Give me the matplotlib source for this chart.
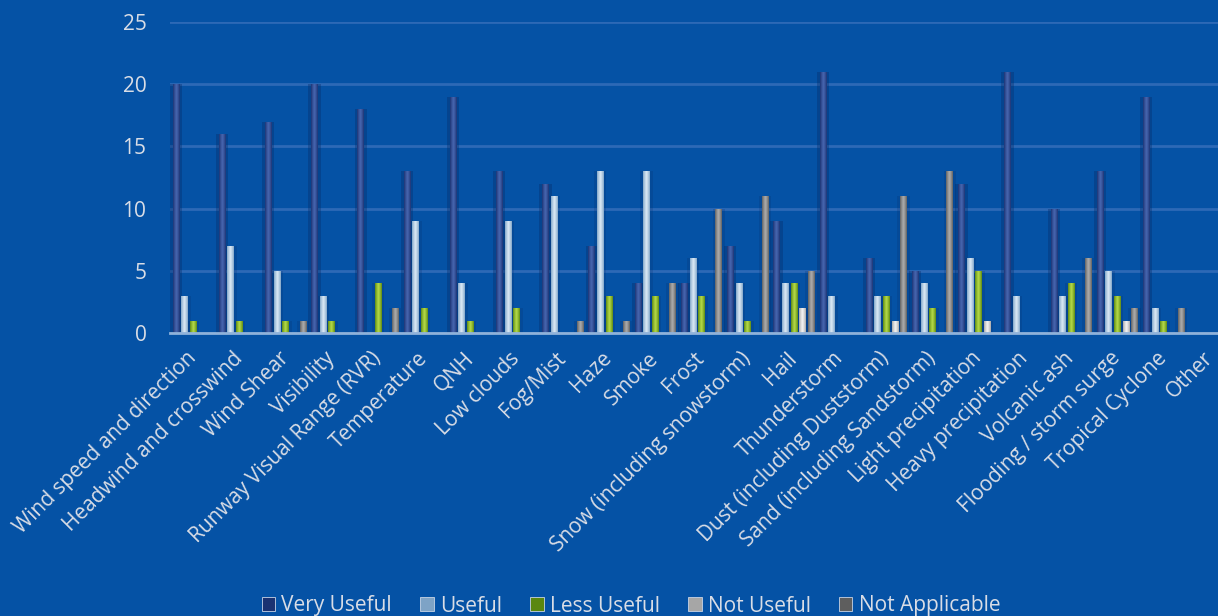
import matplotlib.pyplot as plt
import numpy as np
from matplotlib.colors import LinearSegmentedColormap

categories = [
    "Wind speed and direction", "Headwind and crosswind", "Wind Shear", "Visibility",
    "Runway Visual Range (RVR)", "Temperature", "QNH", "Low clouds", "Fog/Mist", "Haze",
    "Smoke", "Frost", "Snow (including snowstorm)", "Hail", "Thunderstorm",
    "Dust (including Duststorm)", "Sand (including Sandstorm)", "Light precipitation",
    "Heavy precipitation", "Volcanic ash", "Flooding / storm surge", "Tropical Cyclone", "Other",
]

very_useful    = [20, 16, 17, 20, 18, 13, 19, 13, 12, 7, 4, 4, 7, 9, 21, 6, 5, 12, 21, 10, 13, 19, 0]
useful         = [3, 7, 5, 3, 0, 9, 4, 9, 11, 13, 13, 6, 4, 4, 3, 3, 4, 6, 3, 3, 5, 2, 0]
less_useful    = [1, 1, 1, 1, 4, 2, 1, 2, 0, 3, 3, 3, 1, 4, 0, 3, 2, 5, 0, 4, 3, 1, 0]
not_useful     = [0, 0, 0, 0, 0, 0, 0, 0, 0, 0, 0, 0, 0, 2, 0, 1, 0, 1, 0, 0, 1, 0, 0]
not_applicable = [0, 0, 1, 0, 2, 0, 0, 0, 1, 1, 4, 10, 11, 5, 0, 11, 13, 0, 0, 6, 2, 2, 0]

series_names = ["Very Useful", "Useful", "Less Useful", "Not Useful", "Not Applicable"]
series_values = [very_useful, useful, less_useful, not_useful, not_applicable]

# (edge, centre) colours for the cylinder-like shading of each series
shades = [
    ("#1a3272", "#4866b0"),
    ("#7ea3c6", "#dbe9f5"),
    ("#5a8710", "#b4da48"),
    ("#a6a6a6", "#f4f4f4"),
    ("#5e5e5e", "#acacac"),
]

BG = "#0552a5"
TXT = "#d9dde6"

plt.rcParams["font.family"] = ["Open Sans", "DejaVu Sans"]

fig = plt.figure(figsize=(12.18, 6.16), dpi=100, facecolor=BG)
# plot area runs off the right-hand side of the canvas
ax = fig.add_axes([170 / 1218, 283 / 616, 1109 / 1218, 311 / 616])
ax.set_facecolor(BG)

n = 24
x = np.arange(len(categories))
step = 0.187
width = 0.14

ax.yaxis.grid(True, color="#2d69b6", lw=2, zorder=0)
ax.set_axisbelow(True)

grad = np.concatenate([np.linspace(0, 1, 32), np.linspace(1, 0, 32)])[None, :] ** 0.8

for i, (name, vals) in enumerate(zip(series_names, series_values)):
    pos = x + (i - 2) * step
    edge, centre = shades[i]
    cmap = LinearSegmentedColormap.from_list(name, [edge, centre])
    # soft dark halo behind each bar
    ax.bar(pos, vals, width=width * 1.9, color="#062a66", alpha=0.35 if i == 0 else 0.2,
           zorder=2, linewidth=0)
    bars = ax.bar(pos, vals, width=width, color=edge, zorder=3, linewidth=0, label=name)
    for b in bars:
        h = b.get_height()
        if h <= 0:
            continue
        bx = b.get_x()
        im = ax.imshow(grad, cmap=cmap, aspect="auto", zorder=4,
                       extent=[bx, bx + width, 0, h], interpolation="bilinear")
        im.set_clip_path(b)

ax.set_xlim(-0.5, n - 0.5)
ax.set_ylim(0, 25)
ax.set_yticks(range(0, 26, 5))

for s in ["top", "right", "left"]:
    ax.spines[s].set_visible(False)
ax.spines["bottom"].set_color("#8fb2da")
ax.spines["bottom"].set_linewidth(2)
ax.spines["bottom"].set_zorder(5)

ax.tick_params(axis="both", length=0, colors=TXT, labelsize=15)
ax.tick_params(axis="y", pad=17)
ax.set_xticks(x)
ax.set_xticklabels(categories, rotation=45, ha="right", va="center",
                   rotation_mode="anchor", color=TXT, fontsize=15)
ax.tick_params(axis="x", pad=16)

leg = fig.legend(loc="center", bbox_to_anchor=(631 / 1218, 10 / 616), ncol=5,
                 frameon=False, fontsize=15, handlelength=0.65, handleheight=0.65,
                 handletextpad=0.3, columnspacing=1.35, labelcolor=TXT)
for h in leg.legend_handles:
    h.set_edgecolor("#c8d4e6")
    h.set_linewidth(0.6)

fig.savefig("out.png", dpi=100, facecolor=BG)
